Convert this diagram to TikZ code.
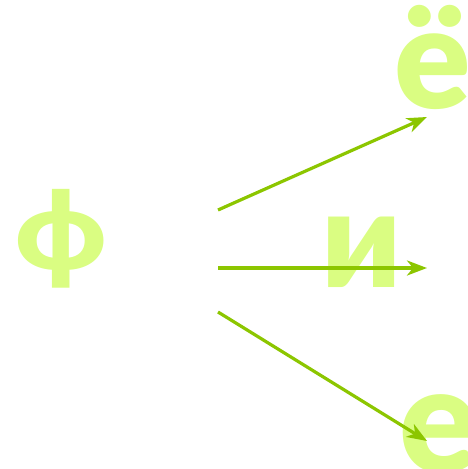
\documentclass[tikz,border=0pt]{standalone}
\usepackage{fontspec}
\setmainfont{Lato}[UprightFont=* Black]
\usetikzlibrary{arrows.meta}
\definecolor{lettergreen}{RGB}{218,253,130}
\definecolor{arrowgreen}{RGB}{140,198,0}
\begin{document}
\begin{tikzpicture}[x=1pt,y=-1pt,
  letter/.style={inner sep=0pt,outer sep=0pt,anchor=base,text=lettergreen},
  arr/.style={draw=arrowgreen,line width=3.2pt,-{Stealth[length=20pt,width=15pt,inset=6pt]}}]
\useasboundingbox (0,0) rectangle (467,469);
\clip (0,0) rectangle (467,469);
\node[letter,font=\fontsize{110}{110}\selectfont,xscale=1.1] (f) at (61,269) {ф};
\node[letter,font=\fontsize{136}{136}\selectfont] (i) at (362,287) {и};
\node[letter,font=\fontsize{142}{142}\selectfont] (yo) at (433,108) {ё};
\node[letter,font=\fontsize{148}{148}\selectfont] (e) at (439,472) {е};
\coordinate (s1) at (218,210);
\coordinate (s2) at (218,268);
\coordinate (s3) at (218,312);
\coordinate (t1) at (427,117);
\coordinate (t2) at (427,268);
\coordinate (t3) at (427,441);
\draw[arr] (s1) -- (t1);
\draw[arr] (s2) -- (t2);
\draw[arr] (s3) -- (t3);
\end{tikzpicture}
\end{document}
